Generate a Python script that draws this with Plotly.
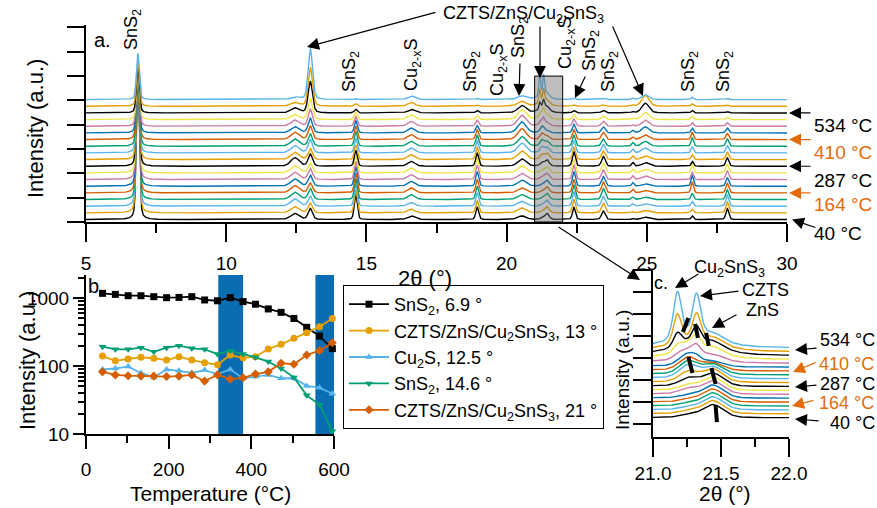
import numpy as np
import plotly.graph_objects as go

W, H = 877, 508
FONT = "Liberation Sans, Arial, Helvetica, sans-serif"
ORANGE_TXT = "#e36c0a"


def px(x):
    return x / W


def py(y):
    return 1 - y / H


# ---------------- data: panel b (peak intensity vs temperature) ----------------
temperature_C = [40, 71, 102, 133, 164, 195, 225, 256, 287, 318, 349, 380, 410, 441, 472, 503, 534, 565, 596]
sns2_69 = [1170, 1130, 1080, 1080, 1045, 1010, 1020, 1045, 935, 910, 1010, 885, 810, 690, 615, 500, 370, 275, 180]
czts_13 = [140, 119, 127, 134, 130, 122, 137, 122, 112, 104, 145, 132, 137, 178, 208, 255, 309, 378, 500]
cu2s_125 = [89, 92, 98, 79, 68, 89, 85, 79, 87, 76, 89, 66, 70, 74, 66, 66, 51, 48, 39]
sns2_146 = [192, 176, 176, 186, 162, 186, 199, 182, 176, 150, 168, 150, 134, 116, 92, 68, 37, 27, 11]
czts_21 = [82, 74, 72, 71, 71, 70, 71, 74, 60, 74, 64, 67, 76, 82, 110, 106, 145, 168, 220]
series_names = ["SnS<sub>2</sub>, 6.9 °", "CZTS/ZnS/Cu<sub>2</sub>SnS<sub>3</sub>, 13 °",
                "Cu<sub>2</sub>S, 12.5 °", "SnS<sub>2</sub>, 14.6 °",
                "CZTS/ZnS/Cu<sub>2</sub>SnS<sub>3</sub>, 21 °"]
highlight_T = [(320, 380), (555, 600)]

# ---------------- data: panels a/c (XRD peaks, one height per temperature) ----------------
peak_centers = [6.85, 12.45, 13.0, 14.62, 16.6, 18.95, 20.55, 21.18, 21.32, 21.26, 21.44, 21.3,
                22.4, 23.45, 24.5, 24.95, 26.62, 27.87]
peak_fwhm = [0.12, 0.35, 0.18, 0.12, 0.3, 0.12, 0.35, 0.07, 0.07, 0.16, 0.18, 0.5,
             0.12, 0.15, 0.1, 0.3, 0.1, 0.12]
h_sns2_69 = [6.1, 5.9, 5.6, 5.4, 5.1, 4.8, 4.6, 4.3, 4.0, 3.7, 3.5, 3.2, 3.0, 2.7, 2.5, 2.2, 2.0, 1.9, 1.9]
h_cu2s_125 = [0.25, 0.25, 0.3, 0.3, 0.3, 0.3, 0.3, 0.3, 0.35, 0.3, 0.3, 0.3, 0.3, 0.25, 0.25, 0.2, 0.2, 0.15, 0.1]
h_czts_13 = [0.45, 0.4, 0.4, 0.45, 0.4, 0.45, 0.45, 0.4, 0.5, 0.45, 0.55, 0.5, 0.55, 0.6, 0.7, 0.85, 1.3, 1.6, 2.1]
h_sns2_146 = [1.05, 0.95, 0.9, 0.85, 0.8, 0.8, 0.75, 0.7, 0.65, 0.6, 0.6, 0.6, 0.55, 0.5, 0.4, 0.3, 0.15, 0.1, 0.05]
h_cu2xs_166 = [0.15, 0.15, 0.15, 0.2, 0.2, 0.2, 0.2, 0.2, 0.2, 0.2, 0.2, 0.2, 0.2, 0.2, 0.2, 0.2, 0.15, 0.15, 0.15]
h_sns2_190 = [0.5, 0.5, 0.55, 0.55, 0.55, 0.6, 0.6, 0.6, 0.55, 0.5, 0.5, 0.45, 0.4, 0.3, 0.25, 0.15, 0.1, 0.05, 0.05]
h_cu2xs_205 = [0.15, 0.2, 0.2, 0.2, 0.2, 0.25, 0.25, 0.3, 0.3, 0.35, 0.4, 0.4, 0.45, 0.45, 0.45, 0.4, 0.3, 0.2, 0.15]
h_cu2sns3_212 = [0, 0, 0, 0, 0, 0, 0, 0, 0, 0, 0, 0, 0, 0, 0.05, 0.1, 0.25, 0.55, 0.9]
h_czts_213 = [0, 0, 0, 0, 0, 0, 0, 0, 0, 0, 0, 0, 0, 0.05, 0.15, 0.2, 0.3, 0.5, 0.8]
h_mid_2126 = [0.05, 0.05, 0.05, 0.05, 0.05, 0.05, 0.1, 0.1, 0.15, 0.2, 0.25, 0.25, 0.25, 0.25, 0.2, 0.2, 0.1, 0.05, 0.05]
h_zns_2144 = [0.25, 0.25, 0.25, 0.25, 0.25, 0.25, 0.25, 0.25, 0.25, 0.25, 0.22, 0.2, 0.15, 0.1, 0.12, 0.15, 0.15, 0.15, 0.15]
h_hump_213 = [0, 0, 0, 0, 0, 0, 0, 0, 0, 0, 0, 0, 0, 0, 0.05, 0.1, 0.15, 0.15, 0.15]
h_cu2xs_224 = [0.5, 0.55, 0.6, 0.6, 0.55, 0.6, 0.6, 0.55, 0.6, 0.5, 0.5, 0.45, 0.4, 0.35, 0.3, 0.2, 0.1, 0.05, 0.05]
h_sns2_235 = [0.35, 0.4, 0.4, 0.45, 0.45, 0.4, 0.4, 0.4, 0.4, 0.35, 0.35, 0.3, 0.3, 0.25, 0.2, 0.15, 0.1, 0.05, 0.05]
h_sns2_245 = [0.05, 0.05, 0.1, 0.1, 0.15, 0.15, 0.15, 0.15, 0.15, 0.15, 0.15, 0.15, 0.1, 0.1, 0.05, 0.05, 0.05, 0.05, 0.05]
h_czts_249 = [0.1, 0.1, 0.1, 0.1, 0.1, 0.1, 0.15, 0.15, 0.15, 0.15, 0.2, 0.2, 0.2, 0.25, 0.25, 0.3, 0.4, 0.45, 0.2]
h_sns2_266 = [0.15, 0.15, 0.2, 0.25, 0.45, 0.45, 0.3, 0.35, 0.2, 0.2, 0.25, 0.35, 0.3, 0.2, 0.15, 0.15, 0.1, 0.1, 0.1]
h_sns2_279 = [0.45, 0.45, 0.45, 0.4, 0.4, 0.35, 0.35, 0.35, 0.35, 0.3, 0.3, 0.3, 0.25, 0.2, 0.15, 0.1, 0.05, 0.05, 0.05]
peak_heights = [h_sns2_69, h_cu2s_125, h_czts_13, h_sns2_146, h_cu2xs_166, h_sns2_190, h_cu2xs_205,
                h_cu2sns3_212, h_czts_213, h_mid_2126, h_zns_2144, h_hump_213, h_cu2xs_224, h_sns2_235,
                h_sns2_245, h_czts_249, h_sns2_266, h_sns2_279]
labelled_idx = [0, 4, 8, 12, 16]  # 40, 164, 287, 410, 534 °C

# peak position markers in panel c (2θ, stacked intensity)
c_marks = [(21.22, 4.77, 21.26, 5.41), (21.31, 5.14, 21.33, 4.5), (21.39, 4.73, 21.41, 4.14),
           (21.26, 3.64, 21.29, 2.91), (21.43, 3.14, 21.46, 2.41), (21.46, 1.45, 21.47, 0.68)]

# ---------------- styles ----------------
cycle = ["#000000", "#E69F00", "#56B4E9", "#009E73", "#D55E00", "#0072B2", "#CC79A7", "#F0E442"]
b_colors = ["#000000", "#E69F00", "#56B4E9", "#009E73", "#D55E00"]
b_symbols = ["square", "circle", "triangle-up", "triangle-down", "diamond"]
A_STEP, A_BASE = 0.274, 0.1
C_STEP, C_BASE, C_SCALE = 0.177, 0.86, 2.4

two_theta = np.round(np.arange(5.0, 30.0001, 0.01), 3)


def profile(x, c, w):
    g = np.exp(-4 * np.log(2) * ((x - c) / w) ** 2)
    lo = 1.0 / (1.0 + 4 * ((x - c) / w) ** 2)
    return 0.65 * g + 0.35 * lo


def signal(i, x):
    s = np.zeros_like(x)
    for c, w, hs in zip(peak_centers, peak_fwhm, peak_heights):
        s = s + hs[i] * profile(x, c, w)
    return s


fig = go.Figure()
n = len(temperature_C)
mask_c = (two_theta >= 21.0) & (two_theta <= 22.0)
for i in range(n):
    col = cycle[i % len(cycle)]
    s = signal(i, two_theta)
    fig.add_trace(go.Scatter(x=two_theta, y=A_BASE + A_STEP * i + s, mode="lines",
                             line=dict(color=col, width=1.4), showlegend=False,
                             xaxis="x", yaxis="y", hoverinfo="skip"))
    fig.add_trace(go.Scatter(x=two_theta[mask_c], y=C_BASE + C_STEP * i + C_SCALE * s[mask_c],
                             mode="lines", line=dict(color=col, width=1.4), showlegend=False,
                             xaxis="x3", yaxis="y3", hoverinfo="skip"))

for name, vals, col, sym in zip(series_names, [sns2_69, czts_13, cu2s_125, sns2_146, czts_21],
                                b_colors, b_symbols):
    fig.add_trace(go.Scatter(x=temperature_C, y=vals, name=name, mode="lines+markers",
                             line=dict(color=col, width=1.8),
                             marker=dict(symbol=sym, size=7, color=col),
                             xaxis="x2", yaxis="y2", cliponaxis=False))

shapes = []
for t0, t1 in highlight_T:
    shapes.append(dict(type="rect", xref="x2", yref="y2 domain", x0=t0, x1=t1, y0=0, y1=1,
                       fillcolor="#0b6db1", line=dict(width=0), layer="below"))
shapes.append(dict(type="rect", xref="x", yref="y", x0=21.0, x1=22.0, y0=0.0, y1=6.0,
                   fillcolor="rgba(110,110,110,0.45)", line=dict(color="#000", width=1), layer="above"))
for x0, y0, x1, y1 in c_marks:
    shapes.append(dict(type="line", xref="x3", yref="y3", x0=x0, y0=y0, x1=x1, y1=y1,
                       line=dict(color="#000", width=4)))

ann = []


def text(t, x, y, size=18, color="#000", angle=0, xanchor="center"):
    ann.append(dict(text=t, x=px(x), y=py(y), xref="paper", yref="paper", showarrow=False,
                    xanchor=xanchor, yanchor="middle", textangle=angle,
                    font=dict(family=FONT, size=size, color=color)))


def arrow(x0, y0, x1, y1, color="#000"):
    ann.append(dict(text="", x=px(x1), y=py(y1), xref="paper", yref="paper", showarrow=True,
                    ax=x0 - x1, ay=y0 - y1, axref="pixel", ayref="pixel",
                    arrowhead=2, arrowsize=2.0, arrowwidth=1.2, arrowcolor=color))


# axis titles
text("Intensity (a.u.)", 35, 129, 22, angle=-90)
text("2θ (°)", 425, 278, 22)
text("Intensity (a.u.)", 27, 361, 22, angle=-90)
text("Temperature (°C)", 210, 493, 21)
text("Intensity (a.u.)", 622, 370, 19, angle=-90)
text("2θ (°)", 725, 493, 21)
# panel letters
text("a.", 102, 40, 20)
text("b.", 96, 286, 20)
text("c.", 661, 283, 18)

# panel a phase labels
for t, x, y in [("SnS<sub>2</sub>", 132, 30), ("SnS<sub>2</sub>", 351, 72), ("Cu<sub>2-x</sub>S", 412, 65),
                ("SnS<sub>2</sub>", 472, 72), ("Cu<sub>2-x</sub>S", 499, 70), ("SnS<sub>2</sub>", 520, 38),
                ("Cu<sub>2-x</sub>S", 567, 43), ("SnS<sub>2</sub>", 590, 51), ("SnS<sub>2</sub>", 610, 72),
                ("SnS<sub>2</sub>", 690, 72), ("SnS<sub>2</sub>", 725, 72)]:
    text(t, x, y, 18, angle=-90)
text("CZTS/ZnS/Cu<sub>2</sub>SnS<sub>3</sub>", 523, 15, 18)
arrow(437, 12, 307, 47)
arrow(540, 25, 540, 78)
arrow(612, 25, 643, 96)
arrow(520, 62, 519, 96)
arrow(586, 75, 575, 98)
arrow(557, 226, 640, 280)

# temperature labels panel a
a_text_y = [233, 205, 180, 152, 125]
for k, idx in enumerate(labelled_idx):
    col = "#000" if k % 2 == 0 else ORANGE_TXT
    base_px = 222 - (A_BASE + A_STEP * idx) * (197 / 8.1)
    text(f"{temperature_C[idx]} °C", 812, a_text_y[k], 19, color=col, xanchor="left")
    if idx == 0:
        arrow(817, 228, 792, base_px, col)
    else:
        arrow(812, base_px, 789, base_px, col)

# panel c labels
text("Cu<sub>2</sub>SnS<sub>3</sub>", 729, 268, 18)
text("CZTS", 765, 290, 18)
text("ZnS", 762, 310, 18)
arrow(700, 273, 675, 288)
arrow(740, 291, 700, 296)
arrow(738, 314, 712, 328)
c_text = [(852, 423), (846, 403), (847, 384), (846, 364), (847, 340)]
c_arrows = [(820, 421, 795, 419), (815, 400, 792, 406), (818, 385, 795, 387),
            (817, 362, 793, 372), (818, 348, 795, 350)]
for k, idx in enumerate(labelled_idx):
    col = "#000" if k % 2 == 0 else ORANGE_TXT
    tx, ty = c_text[k]
    text(f"{temperature_C[idx]} °C", tx, ty, 18, color=col)
    arrow(*c_arrows[k], col)

axis_common = dict(showline=True, linecolor="#000", linewidth=2, ticks="outside", tickcolor="#000",
                   tickwidth=2, showgrid=False, zeroline=False, automargin=False,
                   tickfont=dict(family=FONT, size=19, color="#000"))

fig.update_layout(
    template="none",
    width=W, height=H, autosize=False,
    margin=dict(l=0, r=0, t=0, b=0, pad=0, autoexpand=False),
    paper_bgcolor="white", plot_bgcolor="white",
    font=dict(family=FONT, size=18, color="#000"),
    showlegend=True,
    legend=dict(x=px(343), y=py(285), xanchor="left", yanchor="top", bgcolor="white",
                bordercolor="#000", borderwidth=1, font=dict(family=FONT, size=18),
                tracegroupgap=0, itemwidth=40),
    shapes=shapes, annotations=ann,
    xaxis=dict(domain=[px(86), px(787)], range=[5, 30], anchor="y", tickmode="linear", tick0=5, dtick=5,
               ticklen=18, ticklabelstandoff=5,
               minor=dict(ticks="outside", tick0=7.5, dtick=5, ticklen=9, tickwidth=2, tickcolor="#000"),
               **axis_common),
    yaxis=dict(domain=[py(222), py(25)], range=[0, 8.1], anchor="x", tickmode="linear", tick0=0, dtick=1,
               ticklen=17, showticklabels=False, **axis_common),
    xaxis2=dict(domain=[px(86), px(334)], range=[0, 600], anchor="y2", tickmode="linear", tick0=0, dtick=200,
                ticklen=13, ticklabelstandoff=4,
                minor=dict(ticks="outside", tick0=100, dtick=200, ticklen=7, tickwidth=2, tickcolor="#000"),
                **axis_common),
    yaxis2=dict(domain=[py(434), py(275)], type="log", range=[1, 3.338], anchor="x2",
                tickvals=[10, 100, 1000], ticktext=["10", "100", "1000"], ticklen=11,
                minor=dict(ticks="outside", dtick="D1", ticklen=6, tickwidth=1.5, tickcolor="#000"),
                **axis_common),
    xaxis3=dict(domain=[px(653), px(789)], range=[21, 22], anchor="y3", tickmode="linear", tick0=21,
                dtick=0.5, tickformat=".1f", ticklen=18, ticklabelstandoff=0,
                minor=dict(ticks="outside", tick0=21.25, dtick=0.5, ticklen=8, tickwidth=2, tickcolor="#000"),
                **axis_common),
    yaxis3=dict(domain=[py(437), py(270)], range=[0, 7.59], anchor="x3", tickmode="linear",
                tick0=0.59, dtick=1, ticklen=18, showticklabels=False, **axis_common),
)

fig.write_html("out.html", config={"displayModeBar": False},
               post_script="document.body.style.margin='0px';document.body.style.overflow='hidden';")
